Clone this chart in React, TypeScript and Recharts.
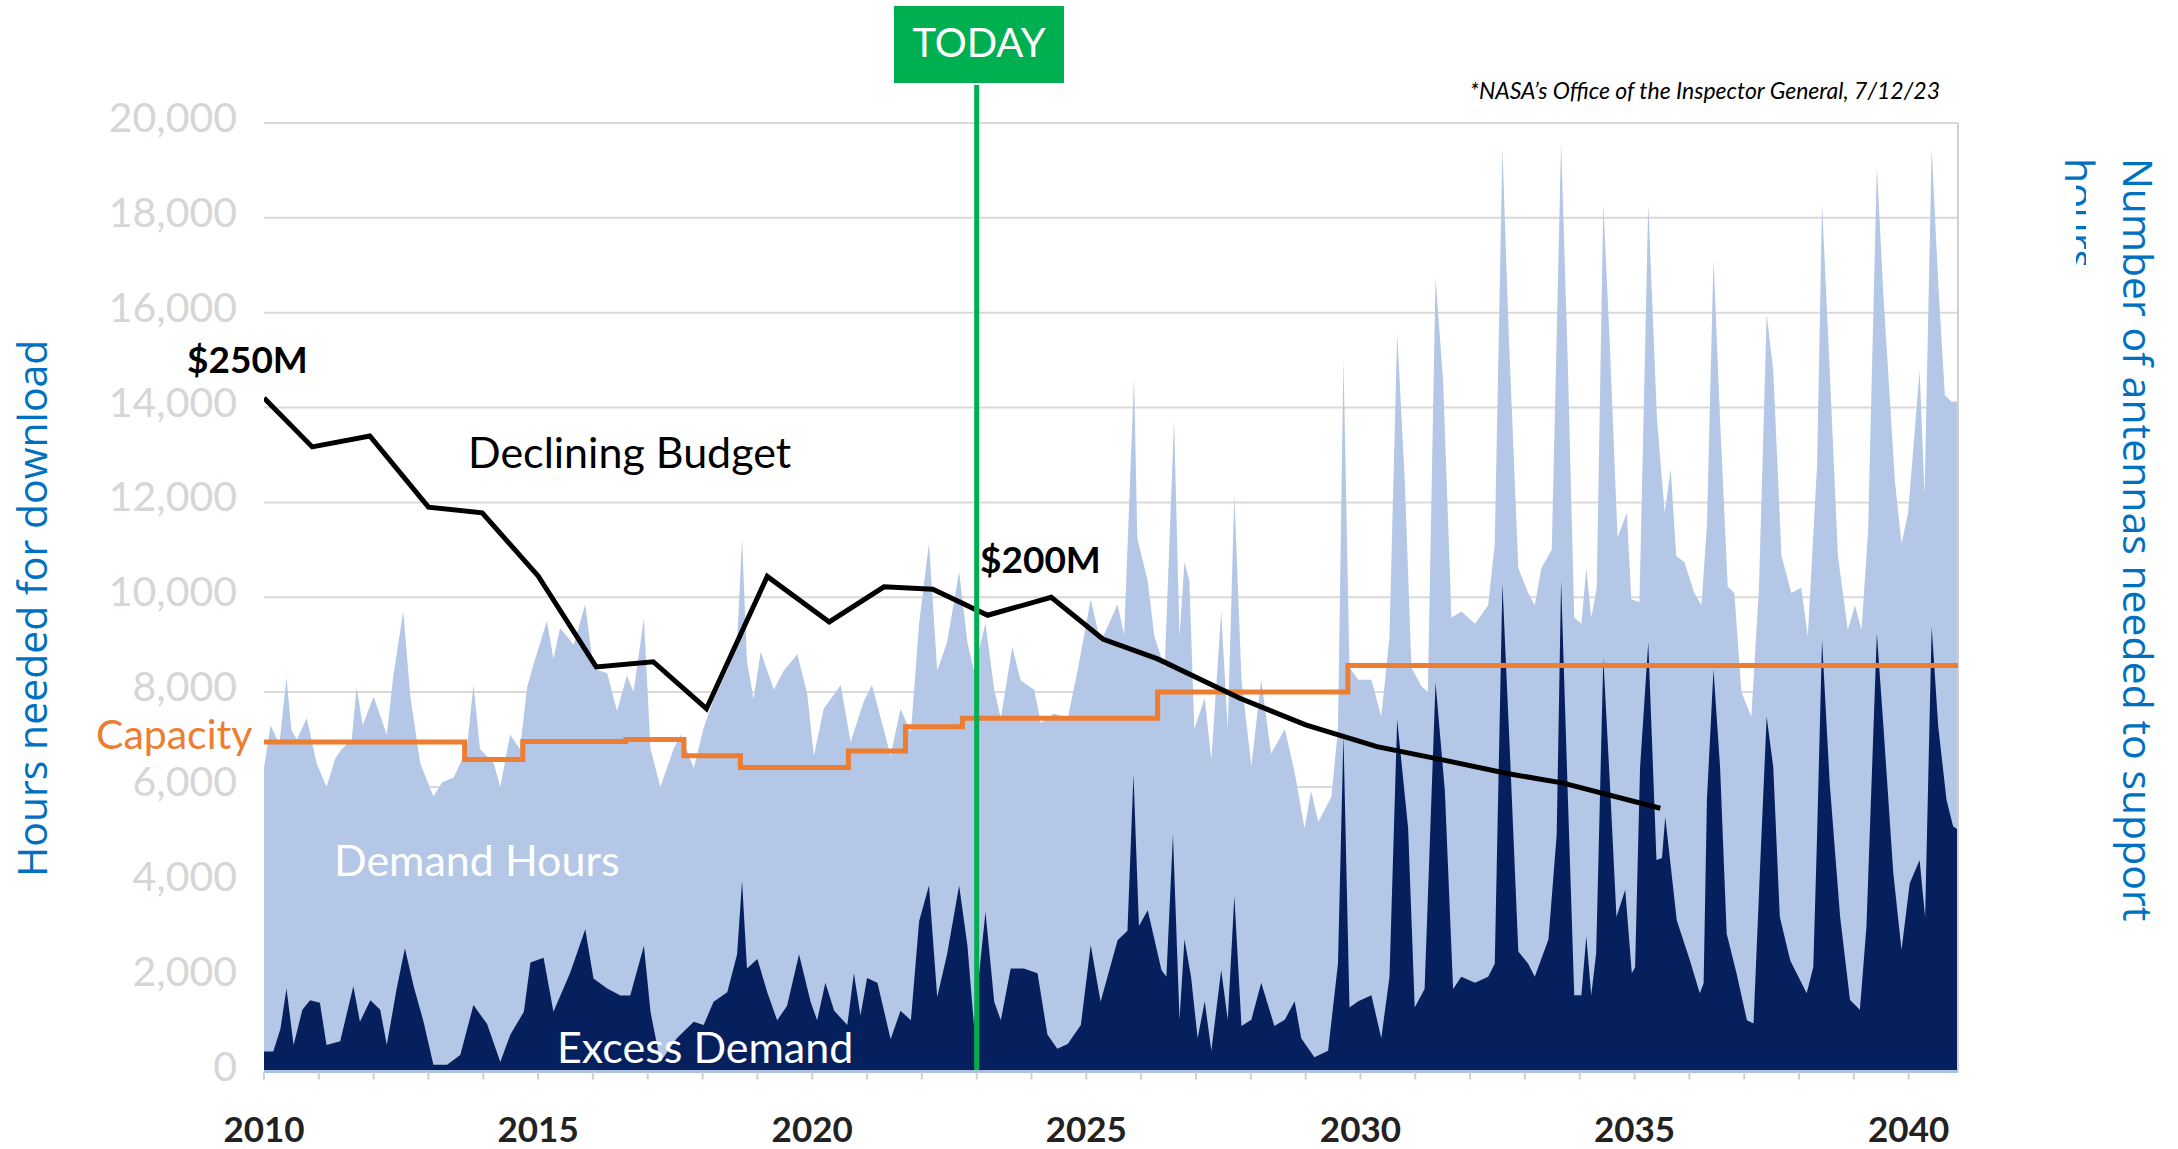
import {
  Area,
  CartesianGrid,
  ComposedChart,
  Line,
  ReferenceLine,
  XAxis,
  YAxis,
} from 'recharts'

// Demand hours (light blue), grouped by calendar year
const demandYears = [
  2010.0, 2010.12, 2010.28, 2010.41, 2010.5, 2010.6, 2010.78, 2010.96,
  2011.14, 2011.3, 2011.42, 2011.6, 2011.69, 2011.8,
  2012.0, 2012.12, 2012.24, 2012.36, 2012.54, 2012.67, 2012.85,
  2013.09, 2013.25, 2013.46, 2013.7, 2013.82, 2013.94,
  2014.19, 2014.31, 2014.49, 2014.67, 2014.8, 2014.92,
  2015.16, 2015.28, 2015.4, 2015.65, 2015.86,
  2016.01, 2016.26, 2016.44, 2016.62, 2016.74, 2016.93,
  2017.05, 2017.23, 2017.47, 2017.6, 2017.84,
  2018.02, 2018.2, 2018.45, 2018.63, 2018.72, 2018.81, 2018.93,
  2019.06, 2019.3, 2019.48, 2019.73, 2019.91,
  2020.03, 2020.21, 2020.52, 2020.7, 2020.94,
  2021.09, 2021.25, 2021.43, 2021.61, 2021.8, 2021.95,
  2022.13, 2022.28, 2022.46, 2022.68, 2022.83, 2022.95,
  2023.16, 2023.32, 2023.44, 2023.65, 2023.8,
  2024.05, 2024.17, 2024.41, 2024.66, 2024.84,
  2025.08, 2025.26, 2025.57, 2025.69, 2025.87, 2025.93,
  2026.12, 2026.24, 2026.43, 2026.6, 2026.7, 2026.79, 2026.88, 2026.97,
  2027.16, 2027.28, 2027.46, 2027.58, 2027.7, 2027.83,
  2028.01, 2028.19, 2028.37, 2028.62, 2028.8, 2028.98,
  2029.1, 2029.23, 2029.47, 2029.59, 2029.69, 2029.8, 2029.96,
  2030.2, 2030.38, 2030.53, 2030.67, 2030.81, 2030.93,
  2031.11, 2031.23, 2031.37, 2031.51, 2031.66, 2031.84,
  2032.09, 2032.33, 2032.45, 2032.59, 2032.7, 2032.88,
  2033.06, 2033.18, 2033.3, 2033.49, 2033.66, 2033.78, 2033.9,
  2034.03, 2034.12, 2034.21, 2034.31, 2034.43, 2034.55, 2034.69, 2034.86, 2034.94,
  2035.09, 2035.25, 2035.41, 2035.55, 2035.66, 2035.76, 2035.91,
  2036.09, 2036.22, 2036.32, 2036.44, 2036.56, 2036.7, 2036.82, 2036.95,
  2037.13, 2037.27, 2037.41, 2037.53, 2037.68, 2037.86,
  2038.04, 2038.16, 2038.33, 2038.42, 2038.55, 2038.71, 2038.89,
  2039.02, 2039.14, 2039.26, 2039.42, 2039.54, 2039.75, 2039.87, 2039.99,
  2040.2, 2040.29, 2040.42, 2040.54, 2040.66, 2040.78, 2040.9,
]
const demandHours = [
  6400, 7300, 6900, 8300, 7200, 7000, 7450, 6500,
  6000, 6600, 6800, 7000, 8100, 7300,
  7900, 7500, 7100, 8350, 9700, 7900, 6500,
  5800, 6100, 6200, 6800, 8150, 6800,
  6500, 6000, 7100, 6800, 8100, 8600,
  9500, 8700, 9350, 9000, 9850,
  8500, 8400, 7600, 8350, 8000, 9550,
  6800, 6000, 6800, 7100, 6400,
  7250, 7850, 8450, 9050, 11240, 8650, 7850,
  8850, 8050, 8450, 8800, 7950,
  6650, 7650, 8150, 6950, 7800,
  8150, 7450, 6650, 7650, 7150, 9450,
  11140, 8450, 9050, 10540, 9050, 8450,
  9450, 8050, 7450, 8950, 8250,
  8050, 7350, 7550, 7450, 8450,
  9950, 9050, 9850, 9200, 14630, 11240,
  10350, 9170, 8520, 13740, 9170, 10740, 10350, 7220,
  7870, 6570, 9700, 7200, 12170, 8260,
  6440, 8260, 6700, 7220, 6310, 5130,
  5920, 5260, 5790, 7220, 15040, 8520, 8260,
  8260, 7480, 9170, 15570, 12440, 8520,
  8130, 8000, 16740, 14520, 9570, 9700,
  9440, 9830, 11130, 19480, 15700, 10610,
  10090, 9830, 10610, 11000, 19600, 15040, 9570,
  9440, 10610, 9570, 10200, 18300, 15300, 11260, 11780, 9960,
  9900, 18300, 13740, 11780, 12700, 10870, 10740,
  10090, 9830, 11500, 17130, 13740, 10220, 10090, 8000,
  7480, 10200, 15960, 14780, 10870, 10090,
  10200, 9170, 12800, 18300, 15040, 10870, 9310,
  9830, 9310, 11390, 19090, 16350, 12440, 11130, 11780,
  14780, 12170, 19480, 16610, 14260, 14130, 14130,
]

// Excess demand (dark navy)
const excessYears = [
  2010.0, 2010.17, 2010.3, 2010.41, 2010.54, 2010.7, 2010.84,
  2011.02, 2011.14, 2011.39, 2011.63, 2011.75, 2011.94,
  2012.12, 2012.24, 2012.42, 2012.57, 2012.73, 2012.91,
  2013.09, 2013.34, 2013.58, 2013.82,
  2014.07, 2014.31, 2014.49, 2014.74, 2014.86,
  2015.1, 2015.28, 2015.59, 2015.86,
  2016.01, 2016.26, 2016.5, 2016.68, 2016.93,
  2017.05, 2017.23, 2017.53, 2017.84,
  2018.02, 2018.2, 2018.45, 2018.63, 2018.72, 2018.81,
  2019.0, 2019.18, 2019.36, 2019.54, 2019.76, 2019.97,
  2020.09, 2020.24, 2020.4, 2020.64, 2020.76, 2020.88,
  2021.0, 2021.19, 2021.43, 2021.61, 2021.8, 2021.95,
  2022.13, 2022.28, 2022.46, 2022.68, 2022.83, 2022.95,
  2023.16, 2023.32, 2023.44, 2023.62, 2023.86,
  2024.11, 2024.29, 2024.47, 2024.66, 2024.9,
  2025.08, 2025.26, 2025.57, 2025.75, 2025.86, 2025.96,
  2026.12, 2026.37, 2026.46, 2026.58, 2026.7, 2026.79, 2026.91,
  2027.03, 2027.16, 2027.28, 2027.46, 2027.58, 2027.7, 2027.83,
  2028.01, 2028.19, 2028.43, 2028.62, 2028.8, 2028.92,
  2029.16, 2029.41, 2029.59, 2029.69, 2029.8, 2029.96,
  2030.2, 2030.38, 2030.53, 2030.67, 2030.87, 2030.99,
  2031.17, 2031.37, 2031.54, 2031.69, 2031.84,
  2032.09, 2032.33, 2032.45, 2032.59, 2032.73, 2032.88,
  2033.06, 2033.18, 2033.43, 2033.58, 2033.66, 2033.78, 2033.9,
  2034.03, 2034.12, 2034.21, 2034.3, 2034.43, 2034.55, 2034.67, 2034.83, 2034.95,
  2035.01, 2035.1, 2035.25, 2035.4, 2035.5, 2035.56, 2035.77,
  2036.01, 2036.19, 2036.26, 2036.32, 2036.44, 2036.56, 2036.68, 2036.86,
  2037.05, 2037.17, 2037.29, 2037.41, 2037.53, 2037.65, 2037.84,
  2038.14, 2038.26, 2038.33, 2038.42, 2038.56, 2038.75, 2038.93,
  2039.11, 2039.23, 2039.42, 2039.54, 2039.72, 2039.87,
  2040.02, 2040.2, 2040.3, 2040.42, 2040.54, 2040.69, 2040.81, 2040.9,
]
const excessHours = [
  420, 420, 900, 1750, 560, 1300, 1500,
  1450, 560, 640, 1800, 1050, 1500,
  1300, 560, 1750, 2600, 1800, 1050,
  140, 140, 350, 1400,
  1000, 200, 770, 1260, 2300,
  2400, 1260, 2100, 3000,
  1960, 1750, 1600, 1600, 2650,
  1260, 200, 700, 1050,
  980, 1470, 1670, 2470, 4020, 2170,
  2370, 1670, 1080, 1380, 2470, 1470,
  1080, 1870, 1280, 980, 2070, 1180,
  1970, 1870, 680, 1280, 1080, 3170,
  3920, 1570, 2470, 3920, 2670, 980,
  3370, 1470, 1080, 2170, 2170,
  2070, 780, 480, 580, 980,
  2670, 1470, 2770, 2970, 6260, 3070,
  3400, 2140, 2000, 5000, 1090, 2790, 2000,
  700, 1480, 440, 2140, 1090, 3700, 960,
  1090, 1870, 960, 1090, 1480, 700,
  300, 440, 2270, 7090, 1350, 1480,
  1610, 700, 2000, 7420, 5130, 1350,
  1740, 8200, 5920, 1740, 2000,
  1870, 2000, 2270, 10280, 6630, 2530,
  2270, 2000, 2790, 5000, 10350, 5920, 1610,
  1610, 2850, 1610, 2500, 8720, 6080, 3260, 3830, 2070,
  2200, 6400, 9050, 4460, 4500, 5370, 3190,
  2340, 1650, 1860, 5730, 8470, 6420, 2910, 2070,
  1080, 1010, 4320, 7480, 6420, 3260, 2340,
  1650, 2200, 5000, 9100, 6080, 3260, 1510,
  1300, 3050, 9240, 7270, 4180, 2560,
  3970, 4460, 3260, 9380, 7270, 5730, 5170, 5100,
]

// Declining budget line, drawn on the hours scale
const budgetYears = [
  2010.0, 2010.88, 2011.93, 2013.0, 2013.98, 2015.0, 2016.06, 2017.1, 2018.07,
  2019.18, 2020.31, 2021.31, 2022.2, 2023.2, 2024.36, 2025.3, 2026.3, 2027.8,
  2029.0, 2030.3, 2031.5, 2032.7, 2033.7, 2035.47,
]
const budgetLevel = [
  14200, 13170, 13400, 11900, 11780, 10450, 8530, 8640, 7650,
  10440, 9480, 10220, 10170, 9620, 10000, 9120, 8700, 7870,
  7310, 6850, 6570, 6280, 6080, 5550,
]

// Capacity steps
const capacityYears = [
  2010.0, 2013.66, 2014.72, 2016.6, 2017.66, 2018.69, 2020.66, 2021.7, 2022.74,
  2026.3, 2029.77, 2040.9,
]
const capacityHours = [
  6950, 6580, 6960, 7000, 6660, 6410, 6760, 7270, 7450, 8000, 8560, 8560,
]

const hourTicks = [0, 2000, 4000, 6000, 8000, 10000, 12000, 14000, 16000, 18000, 20000]
const antennaTicks = hourTicks.slice(0, 10)
const antennaTickLabels = ['0', '3.7', '7.4', '11.2', '14.9', '18.6', '22.3', '26', '29.8', '33.5']
const yearTicks = Array.from({ length: 31 }, (_, i) => 2010 + i)
const yearLabels = [2010, 2015, 2020, 2025, 2030, 2035, 2040]
const todayYear = 2023
const lastYear = 2040.9

type Row = {
  year: number
  demand?: number
  excess?: number
  budget?: number
  capacity?: number
}

function buildRows() {
  const rows = new Map<number, Row>()
  const put = (years: number[], values: number[], key: keyof Row) => {
    years.forEach((year, i) => {
      const row = rows.get(year) ?? { year }
      row[key] = values[i]
      rows.set(year, row)
    })
  }
  put(demandYears, demandHours, 'demand')
  put(excessYears, excessHours, 'excess')
  put(budgetYears, budgetLevel, 'budget')
  put(capacityYears, capacityHours, 'capacity')
  return [...rows.values()].sort((a, b) => a.year - b.year)
}

const chartData = buildRows()

const numberFont = 'Lato, "Open Sans", sans-serif'
const titleFont = '"Open Sans", "Noto Sans", sans-serif'
const tickGrey = '#d6d6d6'
const titleBlue = '#0070c0'

function HoursTick({ x, y, payload }: any) {
  return (
    <text x={x} y={y + 9} textAnchor="end" fill={tickGrey} fontSize={41} fontFamily={numberFont}>
      {Number(payload.value).toLocaleString('en-US')}
    </text>
  )
}

function AntennaTick({ x, y, payload }: any) {
  const index = antennaTicks.indexOf(payload.value)
  return (
    <text x={x} y={y + 14} textAnchor="start" fill={tickGrey} fontSize={41} fontFamily={numberFont}>
      {antennaTickLabels[index]}
    </text>
  )
}

function YearTick({ x, y, payload }: any) {
  if (!yearLabels.includes(payload.value)) return <g />
  return (
    <text
      x={x}
      y={y + 62}
      textAnchor="middle"
      fill="#222"
      fontSize={35}
      fontWeight={700}
      fontFamily={numberFont}
    >
      {payload.value}
    </text>
  )
}

function Annotations() {
  return (
    <svg
      width={2178}
      height={1149}
      style={{ position: 'absolute', left: 0, top: 0, pointerEvents: 'none' }}
    >
      <defs>
        <clipPath id="hours-clip">
          <rect x={2060} y={150} width={42} height={33} />
          <rect x={2076} y={183} width={10} height={82} />
        </clipPath>
      </defs>

      <rect x={894} y={6} width={170} height={77} fill="#00b050" />
      <text x={979} y={57} textAnchor="middle" fill="#fff" fontSize={40} fontFamily={numberFont}>
        TODAY
      </text>

      <text
        x={1940}
        y={99}
        textAnchor="end"
        fontSize={23}
        fontStyle="italic"
        fill="#000"
        fontFamily={numberFont}
      >
        *NASA’s Office of the Inspector General, 7/12/23
      </text>

      <text x={187} y={373} fontSize={37} fontWeight={700} fill="#000" fontFamily={numberFont}>
        $250M
      </text>
      <text x={468} y={468} fontSize={43} fill="#000" fontFamily={numberFont}>
        Declining Budget
      </text>
      <text x={980} y={573} fontSize={37} fontWeight={700} fill="#000" fontFamily={numberFont}>
        $200M
      </text>
      <text x={96} y={749} fontSize={41} fill="#ed7d31" fontFamily={numberFont}>
        Capacity
      </text>
      <text x={334} y={876} fontSize={43} fill="#fff" fontFamily={numberFont}>
        Demand Hours
      </text>
      <text x={557} y={1063} fontSize={43} fill="#fff" fontFamily={numberFont}>
        Excess Demand
      </text>

      <text
        transform="translate(47 877) rotate(-90)"
        fontSize={41}
        fill={titleBlue}
        fontFamily={titleFont}
      >
        Hours needed for download
      </text>
      <text
        transform="translate(2123 158) rotate(90)"
        fontSize={41}
        fill={titleBlue}
        fontFamily={titleFont}
      >
        Number of antennas needed to support
      </text>
      <g clipPath="url(#hours-clip)">
        <text
          transform="translate(2065 158) rotate(90)"
          fontSize={41}
          fill={titleBlue}
          fontFamily={titleFont}
        >
          hours
        </text>
      </g>
    </svg>
  )
}

export default function App() {
  return (
    <div
      style={{
        position: 'absolute',
        left: 0,
        top: 0,
        width: 2178,
        height: 1149,
        background: '#fff',
        overflow: 'hidden',
      }}
    >
      <ComposedChart
        width={2178}
        height={1149}
        data={chartData}
        margin={{ top: 123, right: 70, bottom: 7.5, left: 24 }}
      >
        <CartesianGrid
          yAxisId="hours"
          vertical={false}
          stroke="#d9d9d9"
          strokeWidth={2}
        />
        <XAxis
          dataKey="year"
          type="number"
          domain={[2010, lastYear]}
          ticks={yearTicks}
          interval={0}
          allowDataOverflow
          height={70}
          tickSize={8}
          tickMargin={0}
          axisLine={{ stroke: '#adc0e0', strokeWidth: 3 }}
          tickLine={{ stroke: '#cfcfcf', strokeWidth: 2 }}
          tick={YearTick}
        />
        <YAxis
          yAxisId="hours"
          domain={[0, 20000]}
          ticks={hourTicks}
          interval={0}
          width={240}
          axisLine={false}
          tickLine={false}
          tickSize={0}
          tickMargin={27}
          tick={HoursTick}
        />
        <YAxis
          yAxisId="antennas"
          orientation="right"
          domain={[0, 20000]}
          ticks={antennaTicks}
          interval={0}
          width={150}
          axisLine={false}
          tickLine={false}
          tickSize={0}
          tickMargin={38}
          tick={AntennaTick}
        />
        <Area
          yAxisId="hours"
          type="linear"
          dataKey="demand"
          fill="#b4c7e7"
          fillOpacity={1}
          stroke="none"
          connectNulls
          dot={false}
          activeDot={false}
          isAnimationActive={false}
        />
        <Area
          yAxisId="hours"
          type="linear"
          dataKey="excess"
          fill="#06205e"
          fillOpacity={1}
          stroke="none"
          connectNulls
          dot={false}
          activeDot={false}
          isAnimationActive={false}
        />
        <ReferenceLine yAxisId="hours" x={lastYear} stroke="#d0d0d0" strokeWidth={2} />
        <Line
          yAxisId="hours"
          type="stepAfter"
          dataKey="capacity"
          stroke="#ed7d31"
          strokeWidth={5}
          connectNulls
          dot={false}
          activeDot={false}
          isAnimationActive={false}
        />
        <Line
          yAxisId="hours"
          type="linear"
          dataKey="budget"
          stroke="#000"
          strokeWidth={5}
          connectNulls
          dot={false}
          activeDot={false}
          isAnimationActive={false}
        />
        <ReferenceLine
          yAxisId="hours"
          segment={[
            { x: todayYear, y: 0 },
            { x: todayYear, y: 20800 },
          ]}
          stroke="#00b050"
          strokeWidth={5}
          ifOverflow="visible"
        />
      </ComposedChart>
      <Annotations />
    </div>
  )
}
